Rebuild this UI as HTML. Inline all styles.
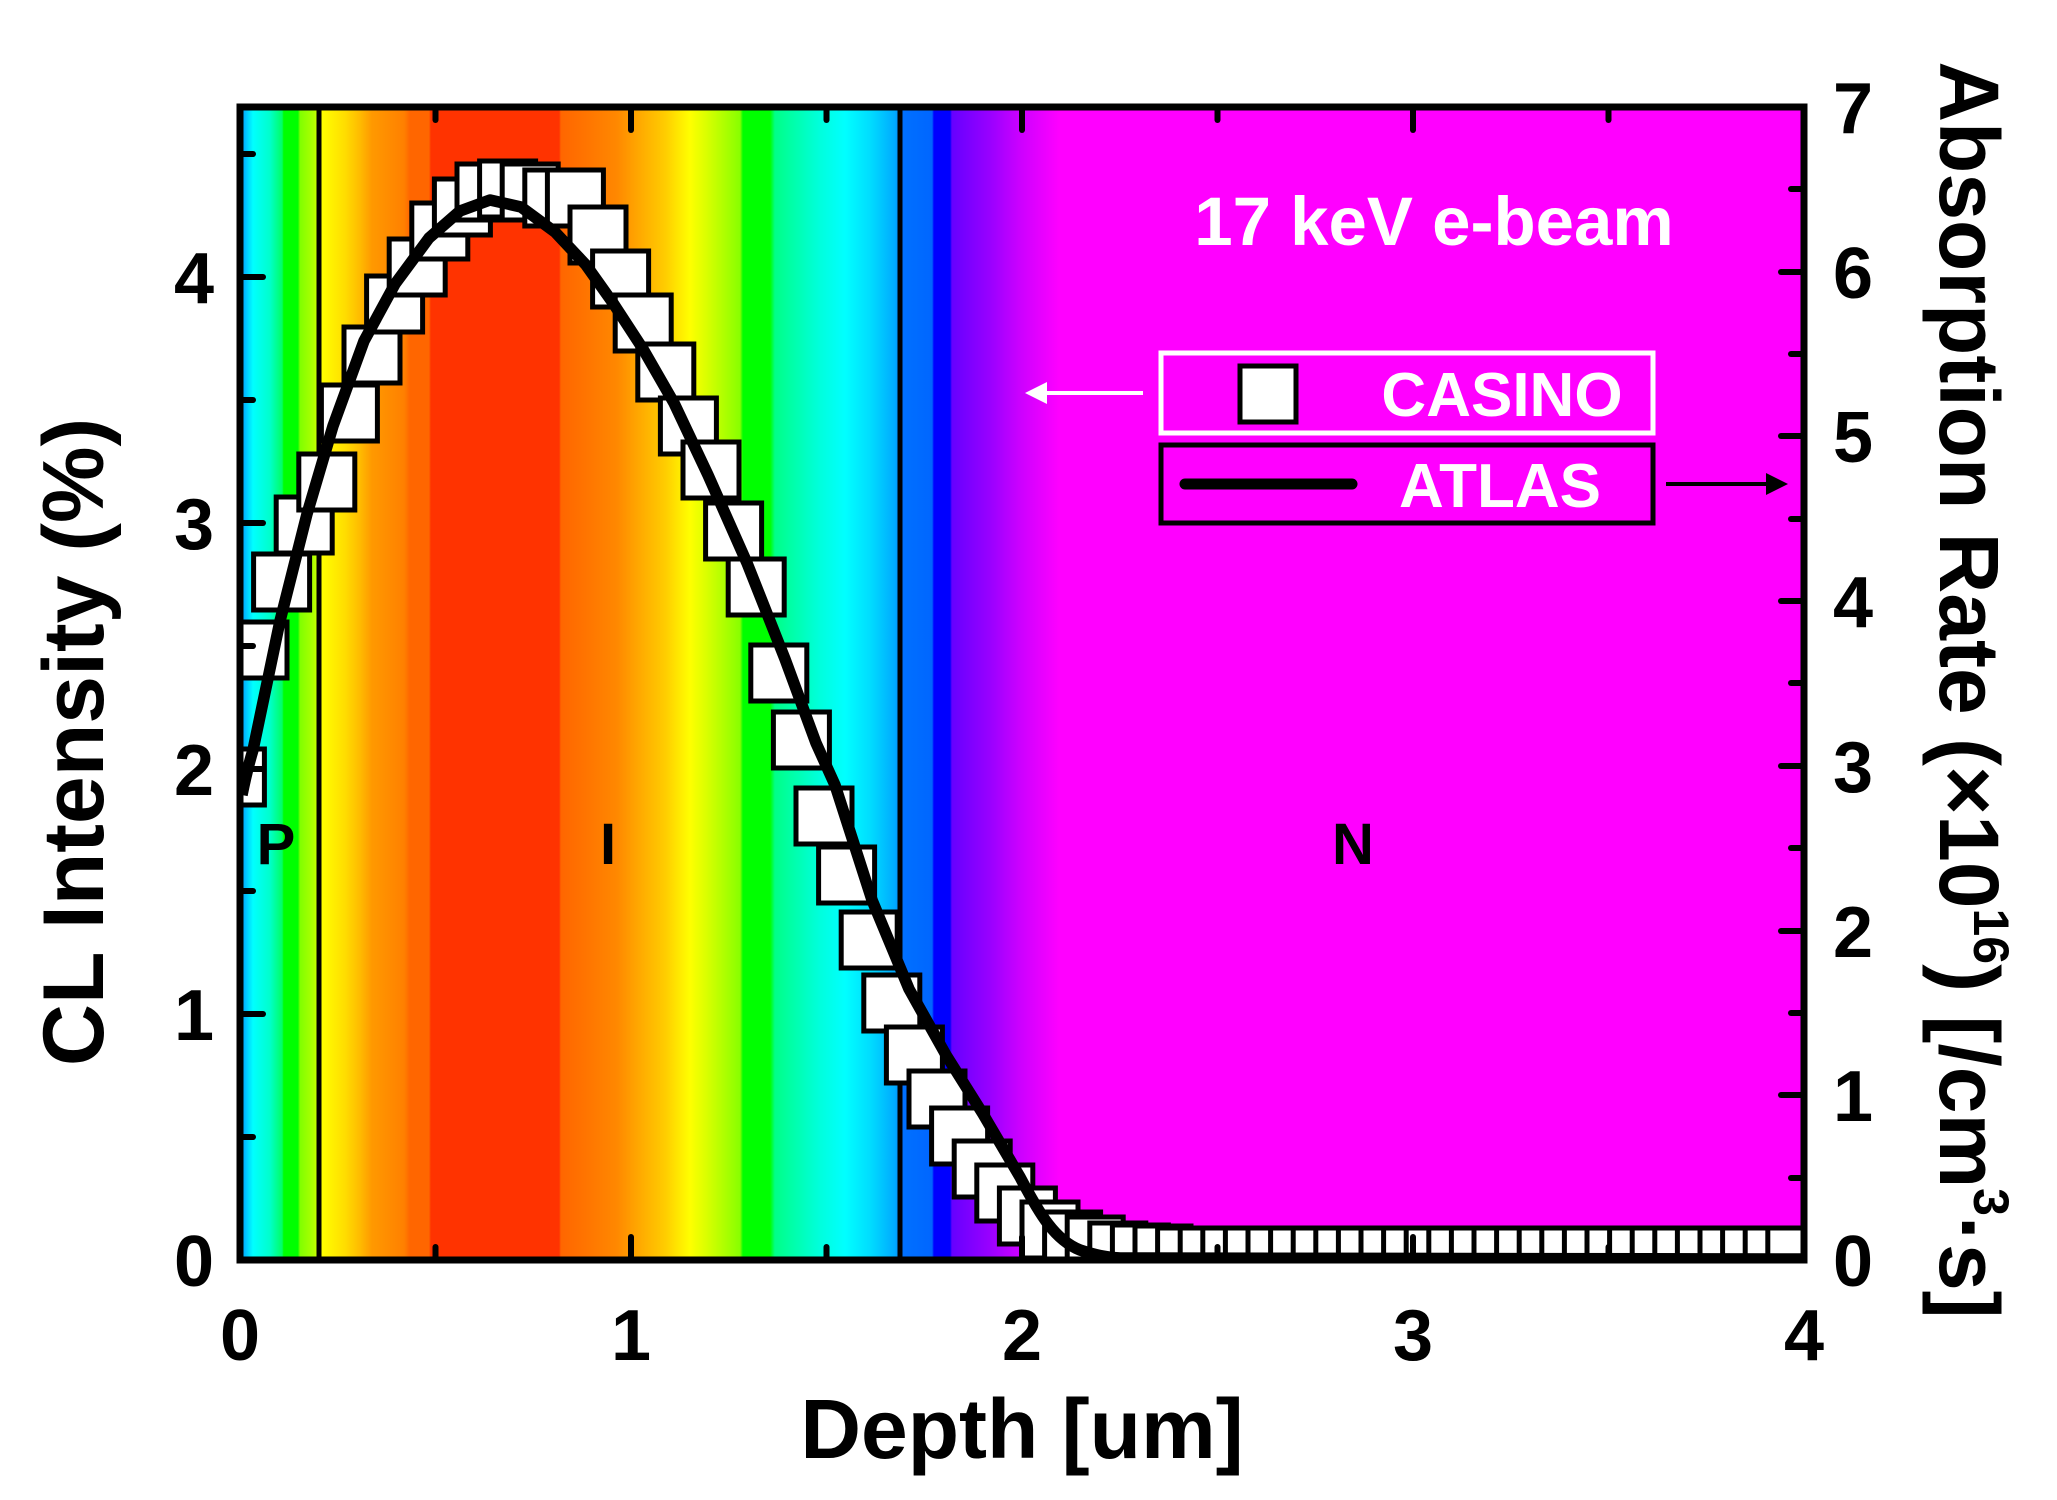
<!DOCTYPE html>
<html><head><meta charset="utf-8"><style>
html,body{margin:0;padding:0;background:#fff;}
svg{display:block;}
text{font-family:"Liberation Sans",Arial,sans-serif;font-weight:bold;}
</style></head><body>
<svg width="2057" height="1500" viewBox="0 0 2057 1500" xmlns="http://www.w3.org/2000/svg">
<defs>
<linearGradient id="bg" gradientUnits="userSpaceOnUse" x1="240" y1="0" x2="1804" y2="0">
<stop offset="0" stop-color="#0090ff"/>
<stop offset="0.0083" stop-color="#00ffff"/>
<stop offset="0.019" stop-color="#00ffcc"/>
<stop offset="0.0269" stop-color="#00ff66"/>
<stop offset="0.028" stop-color="#00ff00"/>
<stop offset="0.037" stop-color="#00ff00"/>
<stop offset="0.0384" stop-color="#80ff00"/>
<stop offset="0.0473" stop-color="#b0ff00"/>
<stop offset="0.0524" stop-color="#ffff00"/>
<stop offset="0.0671" stop-color="#ffdd00"/>
<stop offset="0.0767" stop-color="#ffbb00"/>
<stop offset="0.0844" stop-color="#ff9900"/>
<stop offset="0.1049" stop-color="#ff8000"/>
<stop offset="0.1087" stop-color="#ff6600"/>
<stop offset="0.1208" stop-color="#ff6600"/>
<stop offset="0.1221" stop-color="#ff3300"/>
<stop offset="0.204" stop-color="#ff3300"/>
<stop offset="0.2052" stop-color="#ff6600"/>
<stop offset="0.2238" stop-color="#ff7700"/>
<stop offset="0.241" stop-color="#ff8800"/>
<stop offset="0.2558" stop-color="#ffaa00"/>
<stop offset="0.2717" stop-color="#ffcc00"/>
<stop offset="0.2877" stop-color="#ffff00"/>
<stop offset="0.2973" stop-color="#ddff00"/>
<stop offset="0.3197" stop-color="#88ff00"/>
<stop offset="0.3216" stop-color="#00ff00"/>
<stop offset="0.3389" stop-color="#00ff00"/>
<stop offset="0.342" stop-color="#00ff88"/>
<stop offset="0.3708" stop-color="#00ffdd"/>
<stop offset="0.3868" stop-color="#00ffff"/>
<stop offset="0.4028" stop-color="#00ddff"/>
<stop offset="0.4188" stop-color="#00aaff"/>
<stop offset="0.4239" stop-color="#0070ff"/>
<stop offset="0.4425" stop-color="#0066ff"/>
<stop offset="0.4437" stop-color="#0000ff"/>
<stop offset="0.4540" stop-color="#0000ff"/>
<stop offset="0.4552" stop-color="#6600ff"/>
<stop offset="0.4795" stop-color="#9900ff"/>
<stop offset="0.4987" stop-color="#cc00ff"/>
<stop offset="0.5243" stop-color="#ff00ff"/>
<stop offset="1" stop-color="#ff00ff"/>
</linearGradient>
<clipPath id="pc"><rect x="240" y="107" width="1564" height="1153"/></clipPath>
<rect id="sq" width="56" height="56" fill="#fff" stroke="#000" stroke-width="5"/>
</defs>

<rect x="240" y="107" width="1564" height="1153" fill="url(#bg)"/>
<g clip-path="url(#pc)">
<line x1="319" y1="107" x2="319" y2="1260" stroke="#000" stroke-width="5"/>
<line x1="900" y1="107" x2="900" y2="1260" stroke="#000" stroke-width="5"/>
<text x="276" y="864" font-size="58" text-anchor="middle" fill="#000">P</text>
<text x="608" y="864" font-size="58" text-anchor="middle" fill="#000">I</text>
<text x="1353" y="864" font-size="58" text-anchor="middle" fill="#000">N</text>

<use href="#sq" x="208.4" y="749"/>
<use href="#sq" x="231" y="622"/>
<use href="#sq" x="253.6" y="554"/>
<use href="#sq" x="276.2" y="497"/>
<use href="#sq" x="298.8" y="454"/>
<use href="#sq" x="321.4" y="385"/>
<use href="#sq" x="344" y="327"/>
<use href="#sq" x="366.6" y="276"/>
<use href="#sq" x="389.2" y="239"/>
<use href="#sq" x="411.8" y="203"/>
<use href="#sq" x="434.4" y="179"/>
<use href="#sq" x="457" y="164"/>
<use href="#sq" x="479.6" y="161"/>
<use href="#sq" x="502.2" y="164"/>
<use href="#sq" x="524.8" y="170"/>
<use href="#sq" x="547.4" y="170"/>
<use href="#sq" x="570" y="207"/>
<use href="#sq" x="592.6" y="251"/>
<use href="#sq" x="615.2" y="295"/>
<use href="#sq" x="637.8" y="344"/>
<use href="#sq" x="660.4" y="398"/>
<use href="#sq" x="683" y="442"/>
<use href="#sq" x="705.6" y="503"/>
<use href="#sq" x="728.2" y="559"/>
<use href="#sq" x="750.8" y="645"/>
<use href="#sq" x="773.4" y="712"/>
<use href="#sq" x="796" y="788"/>
<use href="#sq" x="818.6" y="847"/>
<use href="#sq" x="841.2" y="912"/>
<use href="#sq" x="863.8" y="975"/>
<use href="#sq" x="886.4" y="1027"/>
<use href="#sq" x="909" y="1071"/>
<use href="#sq" x="931.6" y="1108"/>
<use href="#sq" x="954.2" y="1141"/>
<use href="#sq" x="976.8" y="1165"/>
<use href="#sq" x="999.4" y="1188"/>
<use href="#sq" x="1022" y="1202"/>
<use href="#sq" x="1044.6" y="1212"/>
<use href="#sq" x="1067.2" y="1217"/>
<use href="#sq" x="1089.8" y="1223"/>
<use href="#sq" x="1112.4" y="1225"/>
<use href="#sq" x="1135" y="1226"/>
<use href="#sq" x="1157.6" y="1228"/>
<use href="#sq" x="1180.2" y="1228"/>
<use href="#sq" x="1202.8" y="1228"/>
<use href="#sq" x="1225.4" y="1228"/>
<use href="#sq" x="1248" y="1228"/>
<use href="#sq" x="1270.6" y="1228"/>
<use href="#sq" x="1293.2" y="1228"/>
<use href="#sq" x="1315.8" y="1228"/>
<use href="#sq" x="1338.4" y="1228"/>
<use href="#sq" x="1361" y="1228"/>
<use href="#sq" x="1383.6" y="1228"/>
<use href="#sq" x="1406.2" y="1228"/>
<use href="#sq" x="1428.8" y="1228"/>
<use href="#sq" x="1451.4" y="1228"/>
<use href="#sq" x="1474" y="1228"/>
<use href="#sq" x="1496.6" y="1228"/>
<use href="#sq" x="1519.2" y="1228"/>
<use href="#sq" x="1541.8" y="1228"/>
<use href="#sq" x="1564.4" y="1228"/>
<use href="#sq" x="1587" y="1228"/>
<use href="#sq" x="1609.6" y="1228"/>
<use href="#sq" x="1632.2" y="1228"/>
<use href="#sq" x="1654.8" y="1228"/>
<use href="#sq" x="1677.4" y="1228"/>
<use href="#sq" x="1700" y="1228"/>
<use href="#sq" x="1722.6" y="1228"/>
<use href="#sq" x="1745.2" y="1228"/>
<use href="#sq" x="1767.8" y="1228"/>

<path d="M242,795 C246,775 250,760 253,750 L280,621 L307,514 L333,426 L364,341 L395,284 L429,238 L460,211 L490,200 L521,207 L555,232 L586,265 L613,303 L643,349 L674,403 L708,475 L747,563 L785,659 L816,743 L835,785 L872,900 L909,989 L946,1055 L983,1114 L1020,1177 C1040,1215 1055,1240 1080,1250 C1095,1255 1105,1257 1120,1258 L1810,1259" fill="none" stroke="#000" stroke-width="11.5" stroke-linejoin="round"/>

<text x="1434" y="245" font-size="69" text-anchor="middle" fill="#fff">17 keV e-beam</text>

<rect x="1161" y="353" width="492" height="80" fill="#ff00ff" stroke="#fff" stroke-width="5"/>
<rect x="1240" y="366" width="56" height="56" fill="#fff" stroke="#000" stroke-width="5"/>
<text x="1502" y="416" font-size="62" text-anchor="middle" fill="#fff">CASINO</text>
<rect x="1161" y="445" width="492" height="78" fill="#ff00ff" stroke="#000" stroke-width="5"/>
<line x1="1185" y1="484" x2="1352" y2="484" stroke="#000" stroke-width="11" stroke-linecap="round"/>
<text x="1500" y="507" font-size="62" text-anchor="middle" fill="#fff">ATLAS</text>
<line x1="1143" y1="393" x2="1040" y2="393" stroke="#fff" stroke-width="4"/>
<polygon points="1025,393 1047,382 1047,404" fill="#fff"/>
<line x1="1666" y1="484" x2="1770" y2="484" stroke="#000" stroke-width="4"/>
<polygon points="1788,484 1766,473 1766,495" fill="#000"/>
</g>

<g stroke="#000" stroke-width="6" stroke-linecap="round">
<line x1="631" y1="1260" x2="631" y2="1237"/>
<line x1="1022" y1="1260" x2="1022" y2="1237"/>
<line x1="1413" y1="1260" x2="1413" y2="1237"/>
<line x1="435.5" y1="1260" x2="435.5" y2="1247"/>
<line x1="826.5" y1="1260" x2="826.5" y2="1247"/>
<line x1="1217.5" y1="1260" x2="1217.5" y2="1247"/>
<line x1="1608.5" y1="1260" x2="1608.5" y2="1247"/>
<line x1="631" y1="107" x2="631" y2="130"/>
<line x1="1022" y1="107" x2="1022" y2="130"/>
<line x1="1413" y1="107" x2="1413" y2="130"/>
<line x1="435.5" y1="107" x2="435.5" y2="120"/>
<line x1="826.5" y1="107" x2="826.5" y2="120"/>
<line x1="1217.5" y1="107" x2="1217.5" y2="120"/>
<line x1="1608.5" y1="107" x2="1608.5" y2="120"/>
<line x1="240" y1="1014" x2="263" y2="1014"/>
<line x1="240" y1="769" x2="263" y2="769"/>
<line x1="240" y1="523" x2="263" y2="523"/>
<line x1="240" y1="277" x2="263" y2="277"/>
<line x1="240" y1="1137" x2="253" y2="1137"/>
<line x1="240" y1="891" x2="253" y2="891"/>
<line x1="240" y1="646" x2="253" y2="646"/>
<line x1="240" y1="400" x2="253" y2="400"/>
<line x1="240" y1="154" x2="253" y2="154"/>
<line x1="1804" y1="1095" x2="1781" y2="1095"/>
<line x1="1804" y1="931" x2="1781" y2="931"/>
<line x1="1804" y1="766" x2="1781" y2="766"/>
<line x1="1804" y1="601" x2="1781" y2="601"/>
<line x1="1804" y1="436" x2="1781" y2="436"/>
<line x1="1804" y1="272" x2="1781" y2="272"/>
<line x1="1804" y1="1178" x2="1791" y2="1178"/>
<line x1="1804" y1="1013" x2="1791" y2="1013"/>
<line x1="1804" y1="848" x2="1791" y2="848"/>
<line x1="1804" y1="683" x2="1791" y2="683"/>
<line x1="1804" y1="519" x2="1791" y2="519"/>
<line x1="1804" y1="354" x2="1791" y2="354"/>
<line x1="1804" y1="189" x2="1791" y2="189"/>
</g>
<rect x="240" y="107" width="1564" height="1153" fill="none" stroke="#000" stroke-width="7"/>

<g font-size="72" fill="#000">
<text x="240" y="1360" text-anchor="middle">0</text>
<text x="631" y="1360" text-anchor="middle">1</text>
<text x="1022" y="1360" text-anchor="middle">2</text>
<text x="1413" y="1360" text-anchor="middle">3</text>
<text x="1804" y="1360" text-anchor="middle">4</text>
<text x="214" y="1286" text-anchor="end">0</text>
<text x="214" y="1040" text-anchor="end">1</text>
<text x="214" y="795" text-anchor="end">2</text>
<text x="214" y="549" text-anchor="end">3</text>
<text x="214" y="303" text-anchor="end">4</text>
<text x="1833" y="1286">0</text>
<text x="1833" y="1121">1</text>
<text x="1833" y="957">2</text>
<text x="1833" y="792">3</text>
<text x="1833" y="627">4</text>
<text x="1833" y="462">5</text>
<text x="1833" y="298">6</text>
<text x="1833" y="133">7</text>
</g>

<text x="1022" y="1458" font-size="84" text-anchor="middle" fill="#000">Depth [um]</text>
<text transform="translate(103,742) rotate(-90)" font-size="86" text-anchor="middle" fill="#000">CL Intensity (%)</text>
<text transform="translate(1940,690) rotate(90)" font-size="84" text-anchor="middle" fill="#000">Absorption Rate (×10<tspan font-size="50" dy="-34">16</tspan><tspan dy="34">) [/cm</tspan><tspan font-size="50" dy="-34">3</tspan><tspan dy="34">·s]</tspan></text>
</svg>
</body></html>
